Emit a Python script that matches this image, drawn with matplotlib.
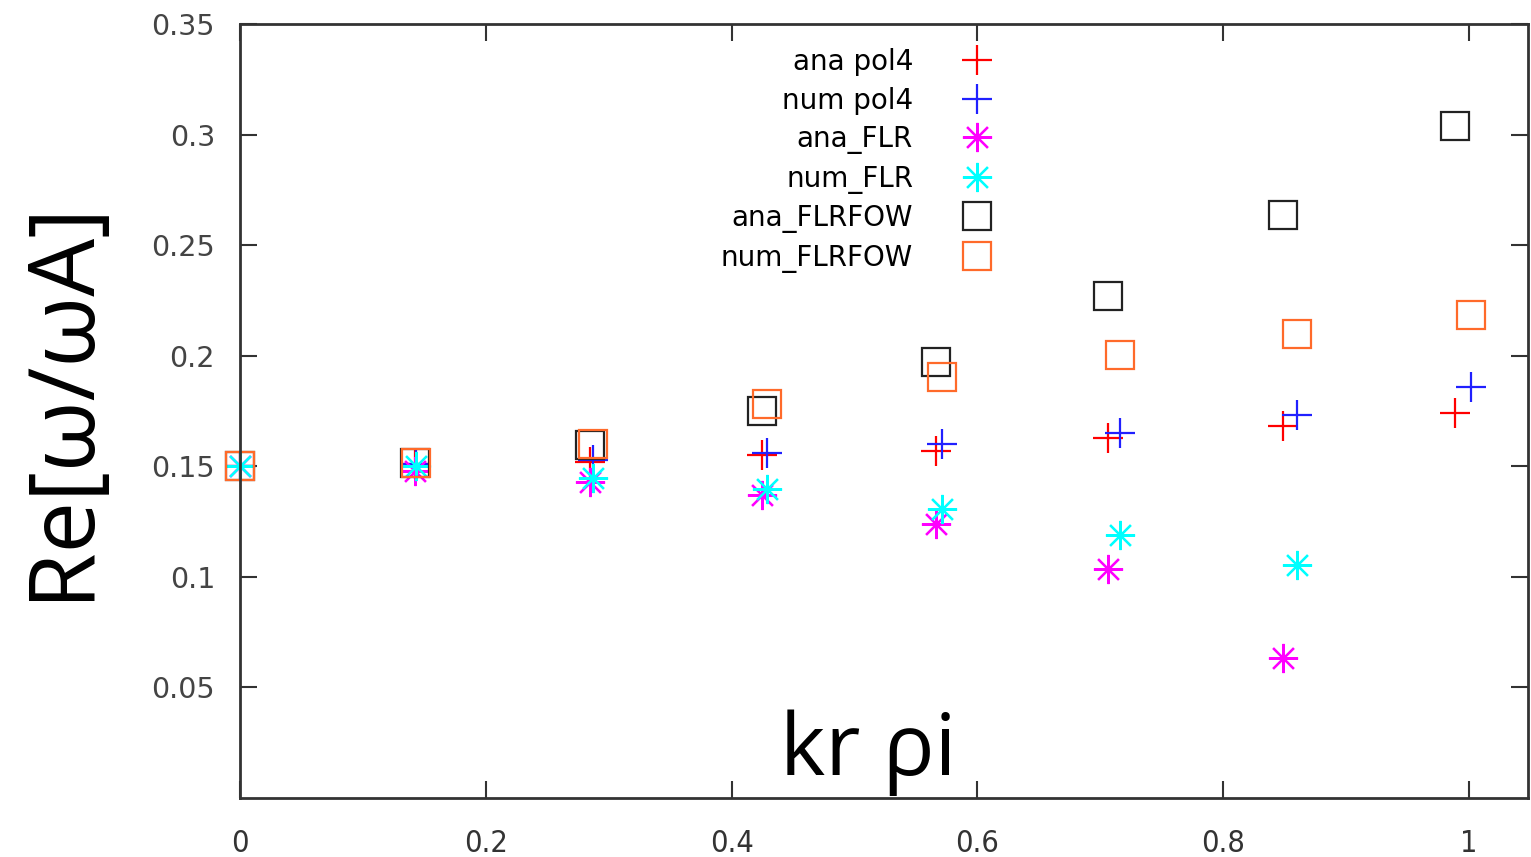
import matplotlib.pyplot as plt

# kr*rho_i values (analytic and numerical points sit slightly apart)
x_ana = [0.0, 0.142, 0.285, 0.425, 0.566, 0.706, 0.849, 0.989]
x_num = [0.0, 0.143, 0.287, 0.429, 0.571, 0.716, 0.860, 1.002]

ana_pol4 = [0.150, 0.151, 0.152, 0.155, 0.157, 0.1626, 0.168, 0.1743]
num_pol4 = [0.150, 0.151, 0.1527, 0.156, 0.160, 0.1649, 0.173, 0.186]
ana_FLR = [0.150, 0.148, 0.143, 0.137, 0.124, 0.1036, 0.0635]
num_FLR = [0.150, 0.150, 0.1446, 0.1396, 0.1306, 0.119, 0.1054]
ana_FLRFOW = [0.150, 0.1514, 0.1595, 0.1748, 0.197, 0.227, 0.2635, 0.304]
num_FLRFOW = [0.150, 0.1514, 0.160, 0.178, 0.1905, 0.2005, 0.210, 0.2185]

xticks = [0, 0.2, 0.4, 0.6, 0.8, 1]
xtick_labels = ['0', '0.2', '0.4', '0.6', '0.8', '1']
yticks = [0.05, 0.1, 0.15, 0.2, 0.25, 0.3, 0.35]
ytick_labels = ['0.05', '0.1', '0.15', '0.2', '0.25', '0.3', '0.35']

fig = plt.figure(figsize=(15.31, 8.57), dpi=100)
ax = fig.add_axes([0.1568, 0.0688, 0.8412, 0.9032])

star = (8, 2, 0)
ax.plot(x_ana, ana_pol4, linestyle='none', marker='+', ms=21, mew=1.6, color='#ff0000', label='ana pol4', clip_on=False)
ax.plot(x_num, num_pol4, linestyle='none', marker='+', ms=21, mew=1.6, color='#2020ff', label='num pol4', clip_on=False)
ax.plot(x_ana[:len(ana_FLR)], ana_FLR, linestyle='none', marker=star, ms=21, mew=1.6, color='#ff00ff', label='ana_FLR', clip_on=False)
ax.plot(x_num[:len(num_FLR)], num_FLR, linestyle='none', marker=star, ms=21, mew=1.6, color='#00ffff', label='num_FLR', clip_on=False)
ax.plot(x_ana, ana_FLRFOW, linestyle='none', marker='s', ms=20, mew=1.6, mfc='none', color='#222222', label='ana_FLRFOW', clip_on=False)
ax.plot(x_num, num_FLRFOW, linestyle='none', marker='s', ms=20, mew=1.6, mfc='none', color='#ff6a2a', label='num_FLRFOW', clip_on=False)

ax.set_xlim(0, 1.048)
ax.set_ylim(0.0, 0.35)

ax.set_xticks(xticks)
ax.set_xticklabels(xtick_labels, fontname='DejaVu Sans', fontstretch='condensed', fontsize=22, color='#333333')
ax.set_yticks(yticks)
ax.set_yticklabels(ytick_labels, fontname='DejaVu Sans', fontsize=20.5, color='#444444')
ax.tick_params(axis='both', direction='in', length=12, width=1.5, color='#333333',
               top=True, right=True)
ax.tick_params(axis='x', pad=22)
ax.tick_params(axis='y', pad=18)
for sp in ax.spines.values():
    sp.set_linewidth(2)
    sp.set_color('#333333')

ax.text(-0.138, 0.515, 'Re[ω/ωA]', transform=ax.transAxes, rotation=90, ha='center', va='center',
        fontname='Open Sans', fontsize=66)
ax.text(0.488, 0.059, 'kr ρi', transform=ax.transAxes, ha='center', va='center',
        fontname='Open Sans', fontsize=62)

ax.legend(loc='upper right', bbox_to_anchor=(0.583, 0.969), frameon=False, markerfirst=False,
          prop={'family': 'DejaVu Sans', 'size': 20}, handlelength=1.0, handletextpad=1.8,
          labelspacing=0.38, borderpad=0, borderaxespad=0, numpoints=1)

plt.savefig('out.png', dpi=100)
